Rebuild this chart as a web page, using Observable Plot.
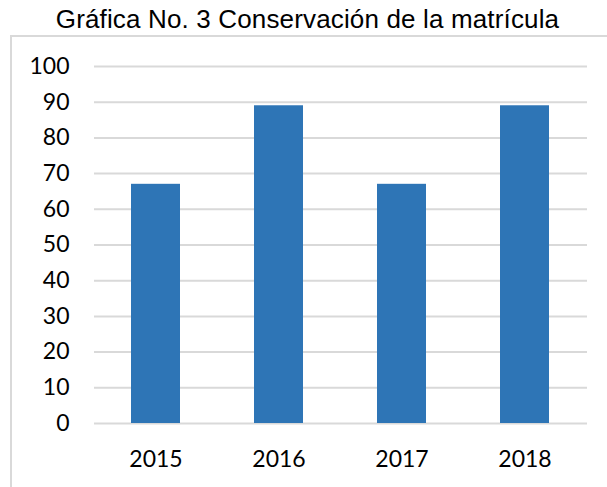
<!DOCTYPE html>
<html>
<head>
<meta charset="utf-8">
<script src="https://cdn.jsdelivr.net/npm/d3@7"></script>
<script src="https://cdn.jsdelivr.net/npm/@observablehq/plot@0.6"></script>
<style>
  html, body { margin: 0; padding: 0; background: #fff; }
  body { width: 607px; height: 487px; position: relative; overflow: hidden; }
  #title {
    position: absolute; left: 4px; top: 6px; width: 607px;
    text-align: center; font-family: "Liberation Sans", Arial, sans-serif;
    font-size: 26px; line-height: 26px; letter-spacing: 0.15px; color: #000; white-space: nowrap;
  }
  #frame {
    position: absolute; left: 10px; top: 35px; width: 640px; height: 500px;
    border: 2px solid #d9d9d9; box-sizing: border-box; pointer-events: none;
  }
  #chart { position: absolute; left: 0; top: 36px; }
</style>
</head>
<body>
<div id="frame"></div>
<div id="title">Gráfica No. 3 Conservación de la matrícula</div>
<div id="chart"></div>
<script>
const years = ["2015", "2016", "2017", "2018"];
const values = [67, 89, 67, 89];
const yTicks = [0, 10, 20, 30, 40, 50, 60, 70, 80, 90, 100];

const data = years.map((year, i) => ({year, value: values[i]}));

const chart = Plot.plot({
  width: 607,
  height: 451,
  marginTop: 30,
  marginBottom: 64,
  marginLeft: 94,
  marginRight: 20,
  style: {fontFamily: "Lato, 'Open Sans', sans-serif", fontSize: "23px", color: "#000", background: "transparent", overflow: "visible"},
  x: {domain: years, paddingInner: 0.6, paddingOuter: 0.3},
  y: {domain: [0, 100]},
  marks: [
    Plot.gridY(yTicks, {stroke: "#d9d9d9", strokeOpacity: 1, strokeWidth: 2}),
    Plot.barY(data, {x: "year", y: "value", fill: "#2E75B6"}),
    Plot.axisY(yTicks, {tickSize: 0, tickPadding: 25, label: null, fontSize: 23}),
    Plot.axisX({tickSize: 0, tickPadding: 27, label: null, fontSize: 23})
  ]
});
document.getElementById("chart").appendChild(chart);
</script>
</body>
</html>
